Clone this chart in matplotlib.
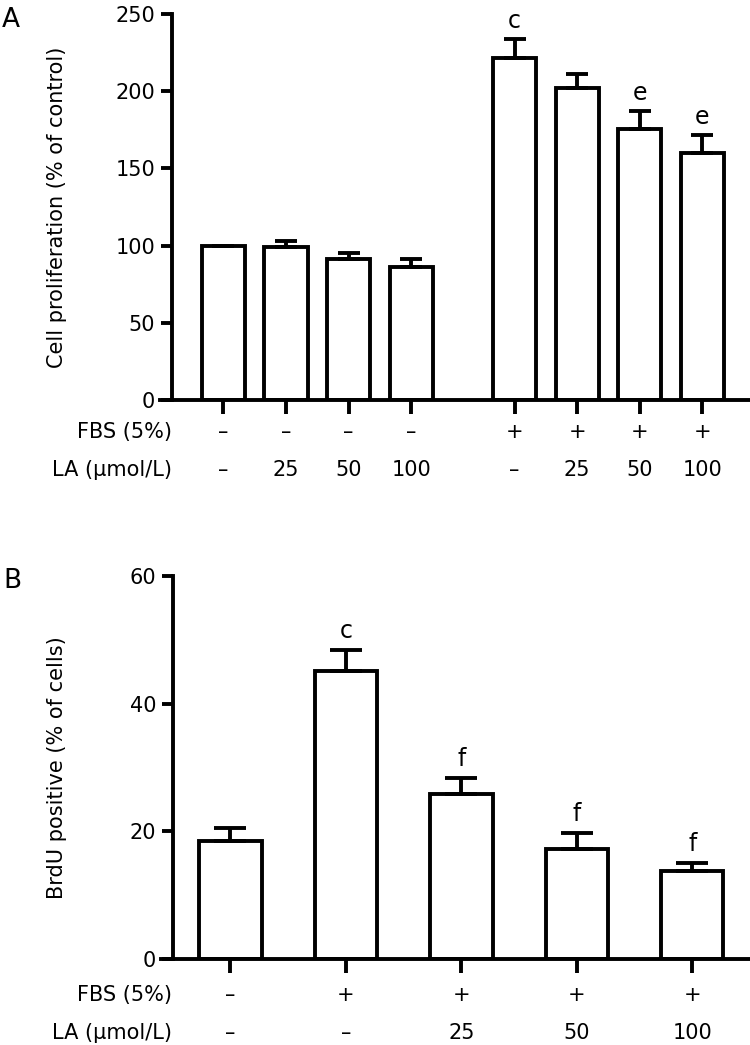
import numpy as np
import matplotlib
matplotlib.use('Agg')
from matplotlib import pyplot as plt

# panel A - cell proliferation
pos_a = [0, 1, 2, 3, 4.65, 5.65, 6.65, 7.65]
prolif = [100, 99.3, 91, 86, 221.7, 201.9, 175.5, 159.8]
prolif_err = [0, 3.9, 4.3, 5.2, 11.9, 9.2, 11.7, 11.6]
fbs_a = ['–', '–', '–', '–', '+', '+', '+', '+']
la_a = ['–', '25', '50', '100', '–', '25', '50', '100']
sig_a = ['', '', '', '', 'c', '', 'e', 'e']

# panel B - BrdU
pos_b = [0, 1, 2, 3, 4]
brdu = [18.5, 45.1, 25.8, 17.2, 13.8]
brdu_err = [2.1, 3.3, 2.5, 2.5, 1.2]
fbs_b = ['–', '+', '+', '+', '+']
la_b = ['–', '–', '25', '50', '100']
sig_b = ['', 'c', 'f', 'f', 'f']

W, H = 750, 1045
LW = 2.8
FS = 15

fig = plt.figure(figsize=(W/100, H/100), dpi=100)


def px(x, y):
    return x / W, 1 - y / H


def panel(left, zero, top, pos, vals, errs, fbs, la, sig, ylim, yticks, ylabel,
          xlim, width, capsize, sig_off, row_y):
    x0, y0 = px(left, zero)
    y1 = px(left, top)[1]
    ax = fig.add_axes([x0, y0, 1 - x0, y1 - y0])
    ax.bar(pos, vals, width=width, color='white', edgecolor='black', linewidth=LW, zorder=2)
    ax.errorbar(pos, vals, yerr=[np.zeros(len(errs)), errs], fmt='none', ecolor='black',
                elinewidth=LW, capsize=capsize, capthick=LW, zorder=3)
    for p, v, e, s in zip(pos, vals, errs, sig):
        if s:
            ax.annotate(s, (p, v + e), xytext=(0, sig_off), textcoords='offset points',
                        ha='center', va='baseline', fontsize=17)
    ax.set_xlim(*xlim)
    ax.set_ylim(*ylim)
    ax.set_yticks(yticks)
    ax.set_xticks(pos)
    ax.spines['top'].set_visible(False)
    ax.spines['right'].set_visible(False)
    ax.spines['bottom'].set_visible(False)
    ax.spines['left'].set_linewidth(LW)
    axw = W - left
    ax.axhline(0, xmin=-12 / axw, xmax=1, color='black', lw=LW, clip_on=False, zorder=4)
    ax.tick_params(axis='y', direction='out', length=8, width=LW, labelsize=FS, pad=4)
    ax.tick_params(axis='x', direction='out', length=10, width=LW, labelbottom=False)
    ax.set_ylabel(ylabel, fontsize=FS)
    ax.yaxis.set_label_coords((67 - left) / axw, 0.5)
    tr = ax.get_xaxis_transform()
    for p, f, l in zip(pos, fbs, la):
        ax.text(p, row_y[0], f, transform=tr, ha='center', va='center', fontsize=FS)
        ax.text(p, row_y[1], l, transform=tr, ha='center', va='center', fontsize=FS)
    lab_x = (172 - left) / axw
    ax.text(lab_x, row_y[0], 'FBS (5%)', transform=ax.transAxes, ha='right', va='center', fontsize=FS)
    ax.text(lab_x, row_y[1], 'LA (μmol/L)', transform=ax.transAxes, ha='right', va='center', fontsize=FS)
    return ax


panel(172, 400, 14, pos_a, prolif, prolif_err, fbs_a, la_a, sig_a,
      (0, 250), [0, 50, 100, 150, 200, 250], 'Cell proliferation (% of control)',
      (-0.82, 8.41), 0.69, 8, 8, (-0.083, -0.181))

panel(172.7, 959, 576, pos_b, brdu, brdu_err, fbs_b, la_b, sig_b,
      (0, 60), [0, 20, 40, 60], 'BrdU positive (% of cells)',
      (-0.50, 4.50), 0.54, 11.5, 9, (-0.094, -0.193))

fig.text(*px(11, 20), 'A', ha='center', va='center', fontsize=19)
fig.text(*px(12, 581), 'B', ha='center', va='center', fontsize=19)

fig.savefig('out.png', dpi=100)
